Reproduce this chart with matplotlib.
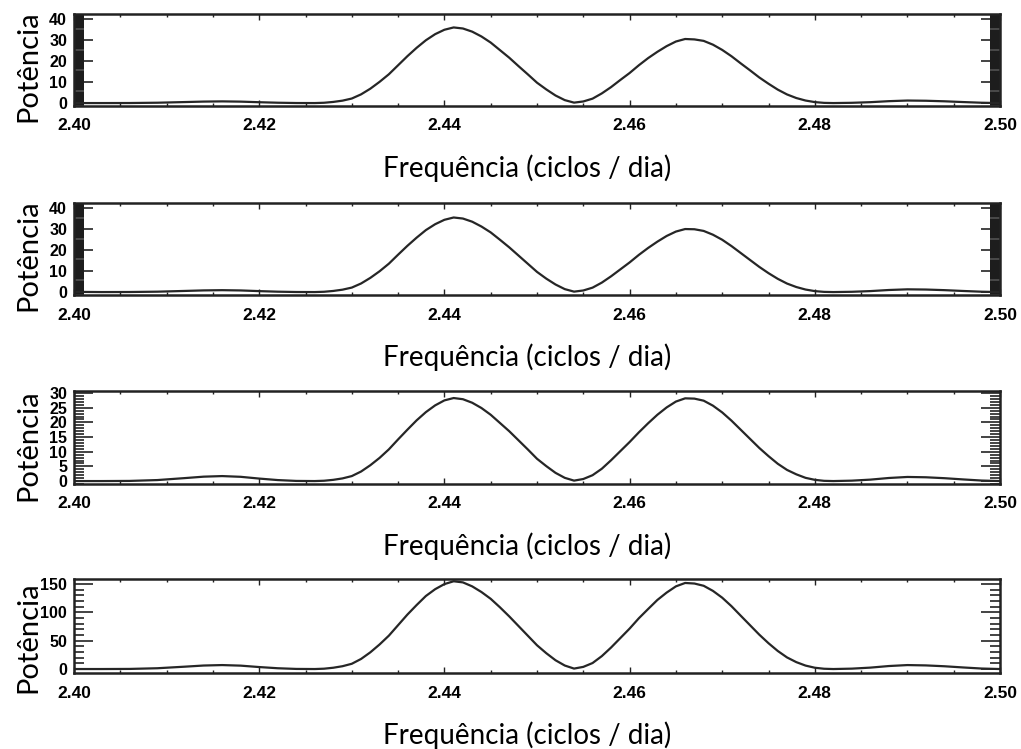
import numpy as np
import matplotlib.pyplot as plt
from matplotlib.ticker import MultipleLocator

# frequencia (ciclos / dia)
freq = [2.400, 2.403, 2.406, 2.409, 2.412, 2.414, 2.416, 2.418, 2.420, 2.422, 2.424,
        2.426, 2.427, 2.428, 2.429, 2.430, 2.431, 2.432, 2.433, 2.434, 2.435,
        2.436, 2.437, 2.438, 2.439, 2.440, 2.441, 2.442, 2.443, 2.444, 2.445,
        2.446, 2.447, 2.448, 2.449, 2.450, 2.451, 2.452, 2.453, 2.454,
        2.455, 2.456, 2.457, 2.458, 2.459, 2.460, 2.461, 2.462, 2.463, 2.464,
        2.465, 2.466, 2.467, 2.468, 2.469, 2.470, 2.471, 2.472, 2.473, 2.474,
        2.475, 2.476, 2.477, 2.478, 2.479, 2.480, 2.481, 2.482,
        2.484, 2.486, 2.488, 2.490, 2.492, 2.494, 2.496, 2.498, 2.500]

# potencia de cada painel
pot_1 = [0.0, 0.0, 0.02, 0.16, 0.48, 0.7, 0.8, 0.68, 0.4, 0.16, 0.02,
         0.0, 0.14, 0.54, 1.15, 2.16, 4.14, 6.84, 10.1, 13.7, 18.0,
         22.3, 26.3, 29.9, 32.8, 34.9, 36.0, 35.5, 34.0, 31.7, 28.8,
         25.2, 21.6, 17.6, 13.7, 9.7, 6.5, 3.6, 1.4, 0.2,
         0.76, 2.1, 4.6, 7.6, 11.0, 14.3, 18.0, 21.4, 24.4, 27.1,
         29.3, 30.5, 30.3, 29.6, 27.8, 25.3, 22.3, 18.9, 15.6, 12.2,
         9.2, 6.4, 4.1, 2.4, 1.2, 0.46, 0.09, 0.0,
         0.12, 0.42, 0.9, 1.2, 1.1, 0.84, 0.48, 0.16, 0.0]
pot_2 = [0.1, 0.0, 0.03, 0.18, 0.54, 0.79, 0.9, 0.77, 0.45, 0.18, 0.03,
         0.0, 0.14, 0.53, 1.14, 2.13, 4.08, 6.75, 9.9, 13.5, 17.8,
         22.0, 25.9, 29.5, 32.3, 34.4, 35.5, 35.0, 33.5, 31.2, 28.4,
         24.9, 21.3, 17.4, 13.5, 9.6, 6.4, 3.6, 1.4, 0.2,
         0.75, 2.1, 4.5, 7.5, 10.8, 14.1, 17.7, 21.0, 24.0, 26.7,
         28.8, 30.0, 29.9, 29.1, 27.3, 24.9, 21.9, 18.6, 15.3, 12.0,
         9.0, 6.3, 4.05, 2.4, 1.2, 0.45, 0.09, 0.0,
         0.13, 0.46, 0.98, 1.3, 1.2, 0.91, 0.52, 0.17, 0.0]
pot_3 = [0.0, 0.0, 0.05, 0.34, 1.02, 1.5, 1.7, 1.45, 0.85, 0.34, 0.05,
         0.0, 0.11, 0.42, 0.91, 1.7, 3.25, 5.4, 7.9, 10.8, 14.2,
         17.5, 20.7, 23.5, 25.8, 27.5, 28.3, 27.9, 26.7, 24.9, 22.6,
         19.8, 17.0, 13.9, 10.8, 7.6, 5.1, 2.8, 1.1, 0.15,
         0.7, 2.0, 4.2, 7.1, 10.2, 13.3, 16.6, 19.7, 22.6, 25.1,
         27.1, 28.2, 28.1, 27.4, 25.7, 23.4, 20.6, 17.5, 14.4, 11.3,
         8.5, 5.9, 3.8, 2.3, 1.1, 0.42, 0.08, 0.0,
         0.14, 0.49, 1.05, 1.4, 1.29, 0.98, 0.56, 0.18, 0.0]
pot_4 = [0.0, 0.0, 0.2, 1.4, 4.2, 6.2, 7.0, 6.0, 3.5, 1.4, 0.2,
         0.0, 0.6, 2.3, 5.0, 9.3, 17.8, 29.5, 43.4, 58.9, 77.5,
         96.1, 113, 129, 141, 150, 155, 153, 146, 136, 124,
         109, 93, 76, 59, 42, 28, 15.5, 6.2, 0.8,
         3.8, 10.6, 22.8, 38, 54.7, 71.4, 89.7, 106, 122, 135,
         146, 152, 151, 147, 138, 126, 111, 94.2, 77.5, 60.8,
         45.6, 31.9, 20.5, 12.2, 6.1, 2.3, 0.5, 0.0,
         0.7, 2.5, 5.3, 7.0, 6.4, 4.9, 2.8, 0.9, 0.0]

xticks = [2.40, 2.42, 2.44, 2.46, 2.48, 2.50]
xticklabels = ['2.40', '2.42', '2.44', '2.46', '2.48', '2.50']

series = [pot_1, pot_2, pot_3, pot_4]
yticks = [[0, 10, 20, 30, 40], [0, 10, 20, 30, 40],
          [0, 5, 10, 15, 20, 25, 30], [0, 50, 100, 150]]
yminor = [0.5, 0.5, 1, 10]
ylims = [(-1.4, 42.4), (-1.4, 42.4), (-1.0, 30.7), (-7, 159)]

# posicoes dos paineis em pixels (topo, base)
boxes = [(14, 106), (203, 295), (391, 484), (579, 673)]
ylab_y = [0.435, 0.435, 0.42, 0.38]

W, H = 1021, 749
fig = plt.figure(figsize=(W / 100, H / 100), dpi=100)

tickfont = dict(family='Liberation Sans', weight='bold')
labfont = 'Lato'

for i in range(4):
    top, bot = boxes[i]
    ax = fig.add_axes([74 / W, 1 - bot / H, 926 / W, (bot - top) / H])
    ax.plot(freq, series[i], color='#262626', lw=1.6)
    ax.set_xlim(2.40, 2.50)
    ax.set_ylim(*ylims[i])

    ax.set_xticks(xticks)
    ax.set_xticklabels(xticklabels, fontsize=12.5, **tickfont)
    ax.xaxis.set_minor_locator(MultipleLocator(0.005))
    ax.set_yticks(yticks[i])
    ax.set_yticklabels([str(v) for v in yticks[i]], fontsize=11.5, **tickfont)
    ax.yaxis.set_minor_locator(MultipleLocator(yminor[i]))

    ax.tick_params(axis='x', which='both', direction='in', top=True, bottom=True,
                   width=1, color='#222222', pad=9)
    ax.tick_params(axis='x', which='major', length=4)
    ax.tick_params(axis='x', which='minor', length=2.5)
    ax.tick_params(axis='y', which='both', direction='in', left=True, right=True,
                   width=1.1, color='#111111', pad=5)
    ax.tick_params(axis='y', which='major', length=14)
    ax.tick_params(axis='y', which='minor', length=7.5)
    for s in ax.spines.values():
        s.set_linewidth(1.8)
        s.set_color('#222222')

    ax.set_xlabel('Frequência (ciclos / dia)', fontsize=20, family=labfont, va='center')
    ax.xaxis.set_label_coords(0.489, -62 / (bot - top))
    ax.set_ylabel('Potência', fontsize=21, family=labfont, va='center')
    ax.yaxis.set_label_coords(-0.0497, ylab_y[i])

fig.savefig('out.png', dpi=100)
